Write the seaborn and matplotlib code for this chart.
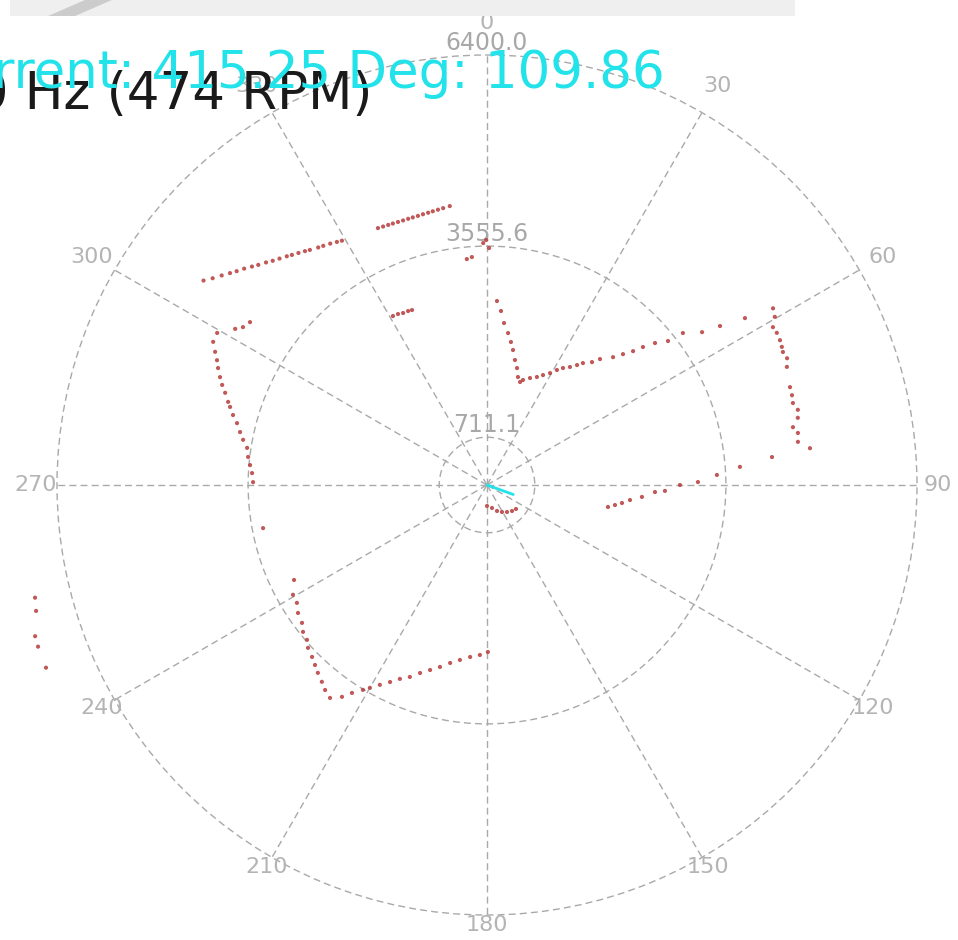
import numpy as np
import pandas as pd
import matplotlib
matplotlib.use('Agg')
import matplotlib.pyplot as plt
import seaborn as sns
from matplotlib.patches import Rectangle, Polygon

# lidar scan: bearing (deg, clockwise from north) and range (mm), grouped by wall
nw_wall_deg = [305.8, 307.0, 308.3, 309.5, 310.5, 311.7, 312.9, 313.9, 315.2, 316.3, 317.5,
               318.8, 319.7, 320.9, 322.1, 323.0, 324.6, 325.6, 327.0, 328.3, 329.3]
nw_wall_mm = [5202, 5113, 5032, 4958, 4900, 4841, 4776, 4725, 4668, 4616, 4571,
              4524, 4490, 4450, 4411, 4381, 4337, 4314, 4284, 4252, 4229]

n_wall_deg = [337.0, 338.1, 339.2, 340.2, 341.3, 342.4, 343.5, 344.5, 345.6, 346.7, 347.8,
              348.8, 349.9, 351.0, 352.4, 354.9, 356.2, 359.1, 0.5, 359.8]
n_wall_mm = [4154, 4146, 4141, 4136, 4133, 4131, 4132, 4133, 4135, 4141, 4146,
             4153, 4162, 4172, 4188, 3376, 3400, 3601, 3527, 3646]

box_deg = [330.9, 332.5, 334.0, 335.6, 336.8]
box_mm = [2878, 2869, 2848, 2843, 2833]

w_wall_deg = [304.5, 302.9, 301.8, 299.4, 297.6, 296.1, 294.8, 293.5, 292.0, 290.7, 289.4, 287.8,
              286.9, 285.4, 283.9, 282.1, 280.5, 278.8, 276.7, 274.8, 272.9, 270.7, 259.1]
w_wall_mm = [4280, 4326, 4410, 4610, 4599, 4506, 4427, 4365, 4286, 4214, 4132, 4047,
             3997, 3921, 3833, 3759, 3692, 3613, 3580, 3539, 3501, 3482, 3394]

ne_corner_deg = [3.1, 4.6, 6.0, 7.9, 9.5, 10.9, 12.6, 14.4, 16.0, 17.8, 18.9, 21.9, 24.8, 27.0,
                 29.4, 31.3, 33.0, 35.1, 36.9, 38.2, 40.5, 41.9, 44.6, 46.1, 47.5, 48.5, 49.8,
                 51.5, 52.2, 54.6, 55.7, 57.1]
ne_corner_mm = [2742, 2598, 2424, 2283, 2158, 2046, 1906, 1797, 1672, 1610, 1652, 1716, 1771, 1836,
                1912, 2003, 2076, 2147, 2232, 2309, 2406, 2518, 2672, 2809, 2949, 3099, 3274,
                3442, 3690, 3927, 4198, 4573]

e_wall_deg = [58.3, 59.7, 61.1, 62.3, 63.7, 64.9, 65.8, 67.1, 68.5, 72.1, 73.6, 75.0, 76.4, 77.8,
              79.3, 80.5, 82.1, 83.5, 84.4, 85.9, 87.5, 89.2, 90.0, 91.9, 92.4, 94.4, 96.0,
              97.6, 98.9, 100.3]
e_wall_mm = [5004, 4961, 4861, 4872, 4864, 4846, 4829, 4848, 4797, 4739, 4732, 4714, 4760, 4733,
             4634, 4692, 4672, 4838, 4262, 3774, 3425, 3140, 2872, 2650, 2502, 2313, 2140,
             2027, 1928, 1830]

sw_corner_deg = [243.8, 240.5, 238.2, 235.9, 233.3, 231.4, 229.3, 227.7, 225.5, 223.7, 222.0,
                 220.0, 218.3, 216.4, 214.4, 213.0, 211.2, 210.0, 208.2, 206.2, 204.2, 201.9,
                 199.6, 197.1, 194.5, 191.7, 188.8, 185.6, 182.4, 179.7]
sw_corner_mm = [3201, 3318, 3329, 3397, 3434, 3504, 3534, 3602, 3651, 3705, 3762,
                3824, 3888, 3937, 3821, 3690, 3565, 3486, 3375, 3268, 3164, 3079,
                2970, 2881, 2797, 2705, 2635, 2572, 2532, 2485]

far_deg = [256.0, 254.4, 251.5, 250.2, 247.5]
far_mm = [6933, 6968, 7092, 7102, 7105]

near_deg = [180.0, 167.7, 159.0, 151.0, 143.5, 136.1, 129.6]
near_mm = [312, 350, 414, 459, 500, 537, 560]

current_deg = 109.86
current_mm = 415.25
status_text = "Current: 415.25 Deg: 109.86"
speed_text = "7.90 Hz (474 RPM)"

ring_values = [711.1, 3555.6, 6400.0]
spoke_deg = [0, 30, 60, 90, 120, 150, 180, 210, 240, 270, 300, 330]

W, H = 958, 940
MM_PER_PX = 6400.0 / 430


def build_frame():
    deg = (nw_wall_deg + n_wall_deg + box_deg + w_wall_deg + ne_corner_deg
           + e_wall_deg + sw_corner_deg + far_deg + near_deg)
    mm = (nw_wall_mm + n_wall_mm + box_mm + w_wall_mm + ne_corner_mm
          + e_wall_mm + sw_corner_mm + far_mm + near_mm)
    df = pd.DataFrame({'deg': deg, 'mm': mm})
    df['theta'] = np.deg2rad(df['deg'])
    return df


def main():
    sns.set_style('white')
    plt.rcParams['font.family'] = ['DejaVu Sans']

    fig = plt.figure(figsize=(W / 100, H / 100), dpi=100)
    fig.patch.set_facecolor('white')

    # window strip at the top
    fig.add_artist(Rectangle((10 / W, 1 - 16 / H), 785 / W, 16 / H, transform=fig.transFigure,
                             facecolor='#efefef', edgecolor='none'))
    fig.add_artist(Polygon([(48 / W, 1 - 16 / H), (75 / W, 1 - 16 / H), (112 / W, 1.0), (85 / W, 1.0)],
                           closed=True, transform=fig.transFigure, facecolor='#c4c4c4',
                           edgecolor='none', alpha=0.8))

    cx, cy, R = 487, 485, 430
    ax = fig.add_axes([(cx - R) / W, (H - cy - R) / H, 2 * R / W, 2 * R / H], projection='polar')
    ax.set_theta_zero_location('N')
    ax.set_theta_direction(-1)
    ax.set_facecolor('none')
    ax.spines['polar'].set_visible(False)

    df = build_frame()
    sns.scatterplot(data=df, x='theta', y='mm', ax=ax, color='#b83c3c', s=9,
                    edgecolor='none', alpha=0.85, clip_on=False, zorder=3)
    ax.plot([np.deg2rad(current_deg)] * 2, [0, current_mm], color='#22e2ea', lw=2, zorder=4)

    ax.set_ylim(0, 6400)
    ax.set_yticks(ring_values)
    ax.set_yticklabels([])
    ax.set_xticks(np.deg2rad(spoke_deg))
    ax.set_xticklabels([])
    ax.set_xlabel('')
    ax.set_ylabel('')
    ax.grid(True, color='#a9a9a9', linestyle=(0, (5, 3)), linewidth=1.0)
    for line in ax.get_xgridlines() + ax.get_ygridlines():
        line.set_clip_on(False)

    # angle labels, sitting a bit further out at the top than at the bottom
    for a in spoke_deg:
        r_px = 451 + 11 * np.cos(np.deg2rad(a))
        ax.text(np.deg2rad(a), r_px * MM_PER_PX, str(a), ha='center', va='center', fontsize=16,
                color='#b4b4b4', clip_on=False, zorder=1)
    # ring labels
    for v in ring_values:
        ax.text(0, v + 12 * MM_PER_PX, f'{v:.1f}', ha='center', va='center', fontsize=17,
                color='#a8a8a8', clip_on=False, zorder=2)

    fig.text(372 / W, 1 - 109 / H, speed_text, ha='right', va='baseline', fontsize=37,
             color='#1a1a1a', zorder=5)
    fig.text(665 / W, 1 - 88 / H, status_text, ha='right', va='baseline', fontsize=37,
             color='#22e2ea', zorder=6)

    fig.savefig('out.png', dpi=100, facecolor='white')
    plt.close(fig)


if __name__ == "__main__":
    main()
